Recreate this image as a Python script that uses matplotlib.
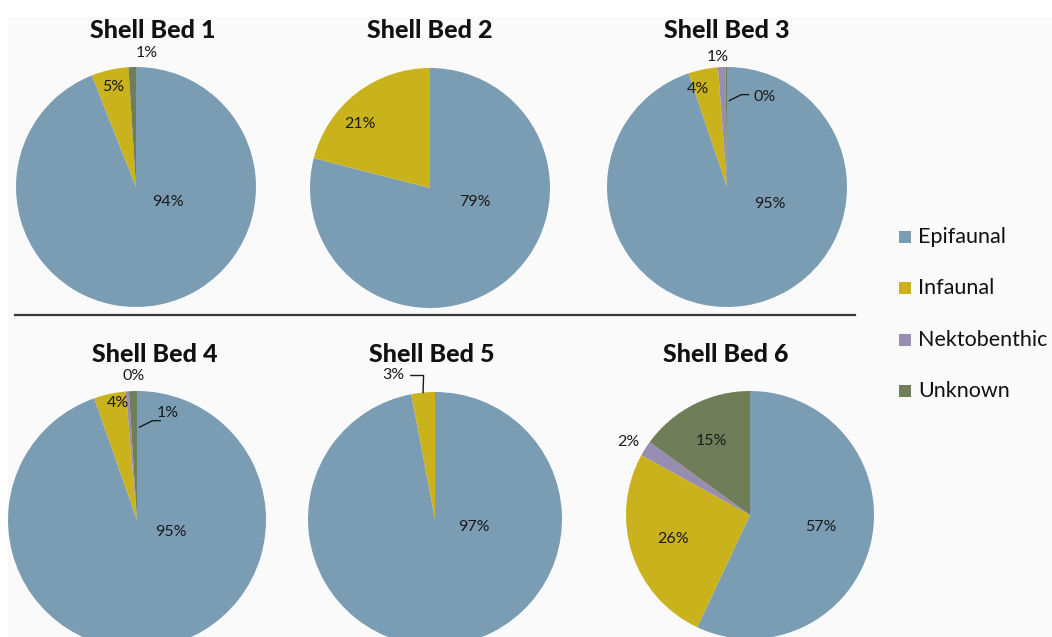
import numpy as np
import matplotlib.pyplot as plt
from matplotlib.patches import Rectangle

# trophic groups and shares (%) per shell bed
groups = ['Epifaunal', 'Infaunal', 'Nektobenthic', 'Unknown']
colors = ['#7b9db4', '#c9b21b', '#968db0', '#6f7e58']

beds = ['Shell Bed 1', 'Shell Bed 2', 'Shell Bed 3',
        'Shell Bed 4', 'Shell Bed 5', 'Shell Bed 6']
bed1 = [94, 5, 0, 1]
bed2 = [79, 21, 0, 0]
bed3 = [95, 4, 1, 0.2]
bed4 = [95, 4, 0.4, 1]
bed5 = [97, 3, 0, 0]
bed6 = [57, 26, 2, 15]
shares = [bed1, bed2, bed3, bed4, bed5, bed6]

W, H = 1052, 637
plt.rcParams['font.family'] = ['Lato', 'DejaVu Sans']

fig = plt.figure(figsize=(W / 100, H / 100), dpi=100)
fig.patch.set_facecolor('white')
fig.patches.append(Rectangle((8 / W, 0), 1, 1 - 17 / H, transform=fig.transFigure,
                             facecolor='#fafafa', edgecolor='none', zorder=-1))

# pie centre x, centre y, radius, title centre x, title y (pixels)
layout = [
    (136, 187, 120, 153, 30),
    (430, 188, 120, 430, 30),
    (727, 187, 120, 727, 30),
    (137, 520, 129, 155, 354),
    (435, 519, 127, 432, 354),
    (750, 515, 124, 726, 354),
]

# label spots in units of pie radius, one per slice (None = no label);
# a third entry asks for a leader line ('r' right of the slice, 'l' left)
label_pos = [
    [(0.27, -0.125), (-0.19, 0.83), None, (0.09, 1.12)],
    [(0.37, -0.12), (-0.58, 0.53), None, None],
    [(0.36, -0.14), (-0.24, 0.82), (-0.08, 1.08), (0.31, 0.75, 'r')],
    [(0.26, -0.09), (-0.15, 0.91), (-0.03, 1.12), (0.24, 0.83, 'r')],
    [(0.31, -0.06), (-0.33, 1.13, 'l'), None, None],
    [(0.57, -0.10), (-0.62, -0.19), (-0.98, 0.59), (-0.31, 0.60)],
]

for (cx, cy, r, tx, ty), vals, name, pos in zip(layout, shares, beds, label_pos):
    ax = fig.add_axes([(cx - r) / W, (H - cy - r) / H, 2 * r / W, 2 * r / H])
    wedges, _ = ax.pie(vals, colors=colors, startangle=90, counterclock=False,
                       radius=1, wedgeprops=dict(linewidth=0))
    ax.set_xlim(-1, 1)
    ax.set_ylim(-1, 1)
    ax.set_aspect('equal')
    ax.axis('off')
    total = sum(vals)
    for w, v, p in zip(wedges, vals, pos):
        if p is None:
            continue
        txt = '%d%%' % round(100 * v / total)
        ax.text(p[0], p[1], txt, ha='center', va='center', fontsize=11.5,
                color='#1a1a1a', clip_on=False)
        if len(p) == 3:
            a = np.deg2rad((w.theta1 + w.theta2) / 2)
            if p[2] == 'r':
                ax.plot([0.02, 0.12, 0.18], [0.72, 0.77, 0.77], color='#1a1a1a',
                        lw=1, clip_on=False)
            else:
                ex, ey = np.cos(a), np.sin(a)
                ax.plot([-0.19, -0.09, ex], [1.13, 1.13, ey], color='#1a1a1a',
                        lw=1, clip_on=False)
    fig.text(tx / W, 1 - ty / H, name, ha='center', va='center',
             fontsize=18, fontweight='black', color='#111111')

# divider between the two rows
fig.add_artist(plt.Line2D([15 / W, 855 / W], [1 - 315 / H, 1 - 315 / H],
                          color='#3a3a3a', lw=1.6, transform=fig.transFigure))

# legend
for i, (g, c) in enumerate(zip(groups, colors)):
    y = 1 - (237 + 51.3 * i) / H
    fig.patches.append(Rectangle((899 / W, y - 6 / H), 12 / W, 12 / H,
                                 transform=fig.transFigure, facecolor=c,
                                 edgecolor='none'))
    fig.text(918 / W, y, g, ha='left', va='center', fontsize=15.5,
             color='#111111')

fig.savefig('out.png', dpi=100, facecolor=fig.get_facecolor())
